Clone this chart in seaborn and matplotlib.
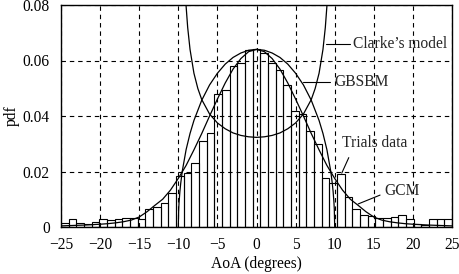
import numpy as np
import pandas as pd
import matplotlib
matplotlib.use("Agg")
import matplotlib.pyplot as plt
import seaborn as sns

# ---- data ----
bin_index = list(range(-25, 26))          # 51 bins, centred on 0, spanning -25..25 deg
trials_pdf = [0.0013, 0.0029, 0.0013, 0.0011, 0.0019, 0.0029, 0.0025, 0.0029, 0.0034, 0.0034,
              0.0029, 0.0064, 0.0071, 0.0085, 0.0124, 0.0184, 0.0196, 0.0232, 0.0310, 0.0338,
              0.0478, 0.0494, 0.0580, 0.0592, 0.0638, 0.0640, 0.0628, 0.0590, 0.0566, 0.0512,
              0.0418, 0.0406, 0.0347, 0.0298, 0.0178, 0.0160, 0.0190, 0.0109, 0.0064, 0.0043,
              0.0040, 0.0031, 0.0031, 0.0037, 0.0045, 0.0029, 0.0011, 0.0006, 0.0029, 0.0029,
              0.0029]

clarke_x = [-9.1, -9.0, -8.8, -8.5, -8.0, -7.5, -7.0, -6.0, -5.0, -4.0, -3.0, -2.0, -1.0, 0.0,
            1.0, 2.0, 3.0, 4.0, 5.0, 6.0, 7.0, 7.5, 8.0, 8.5, 8.8, 9.0, 9.1]
clarke_pdf = [0.0844, 0.0795, 0.0719, 0.0640, 0.0554, 0.0499, 0.0459, 0.0407, 0.0375, 0.0354, 0.0339,
              0.0330, 0.0325, 0.0323,
              0.0325, 0.0330, 0.0339, 0.0354, 0.0375, 0.0407, 0.0459, 0.0499, 0.0554, 0.0640, 0.0719,
              0.0795, 0.0844]

gbsbm_x = [-10.0, -9.95, -9.9, -9.8, -9.7, -9.5, -9.0, -8.5, -8.0, -7.0, -6.0, -5.0, -4.0, -3.0,
           -2.0, -1.0, 0.0, 1.0, 2.0, 3.0, 4.0, 5.0, 6.0, 7.0, 8.0, 8.5, 9.0, 9.5, 9.7, 9.8,
           9.9, 9.95, 10.0]
gbsbm_pdf = [0.0, 0.0064, 0.0090, 0.0127, 0.0155, 0.0200, 0.0279, 0.0337, 0.0384, 0.0457, 0.0512,
             0.0554, 0.0587, 0.0611, 0.0627, 0.0637, 0.0640, 0.0637, 0.0627, 0.0611, 0.0587,
             0.0554, 0.0512, 0.0457, 0.0384, 0.0337, 0.0279, 0.0200, 0.0155, 0.0127, 0.0090,
             0.0064, 0.0]

gcm_x = [-25, -22, -20, -19, -18, -17, -16, -15, -14, -13, -12, -11, -10, -9, -8, -7, -6, -5, -4,
         -3, -2, -1, 0, 1, 2, 3, 4, 5, 6, 7, 8, 9, 10, 11, 12, 13, 14, 15, 16, 17, 18, 19, 20,
         22, 25]
gcm_pdf = [0.0004, 0.0007, 0.0010, 0.0012, 0.0015, 0.0019, 0.0025, 0.0036, 0.0055, 0.0078,
           0.0100, 0.0133, 0.0175, 0.0222, 0.0278, 0.0337, 0.0400, 0.0461, 0.0519, 0.0569,
           0.0607, 0.0632, 0.0640, 0.0632, 0.0607, 0.0569, 0.0519, 0.0461, 0.0400, 0.0337,
           0.0278, 0.0222, 0.0175, 0.0133, 0.0100, 0.0078, 0.0055, 0.0036, 0.0025, 0.0019,
           0.0015, 0.0012, 0.0010, 0.0007, 0.0004]

x_ticks = [-25, -20, -15, -10, -5, 0, 5, 10, 15, 20, 25]
x_tick_labels = ["\u221225", "\u221220", "\u221215", "\u221210", "\u22125", "0", "5", "10", "15", "20", "25"]
y_ticks = [0, 0.02, 0.04, 0.06, 0.08]
y_tick_labels = ["0", "0.02", "0.04", "0.06", "0.08"]

# ---- plotting ----
sns.set_theme(style="white")
plt.rcParams["font.family"] = ["Liberation Serif", "DejaVu Serif"]
FS = 11.2
plt.rcParams["font.size"] = FS

fig = plt.figure(figsize=(4.6, 2.74), dpi=100)
ax = fig.add_axes([61 / 460, 1 - 227 / 274, 391 / 460, 222 / 274])

bin_width = 50 / 51
trials = pd.DataFrame({"aoa": np.array(bin_index) * bin_width, "pdf": trials_pdf})
sns.histplot(data=trials, x="aoa", weights="pdf", bins=51, binrange=(-25, 25),
             fill=False, color="black", linewidth=0.8, element="bars", ax=ax)

sns.lineplot(x=clarke_x, y=clarke_pdf, color="black", linewidth=0.9, ax=ax)
sns.lineplot(x=gbsbm_x, y=gbsbm_pdf, color="black", linewidth=0.9, ax=ax)
sns.lineplot(x=gcm_x, y=gcm_pdf, color="black", linewidth=0.9, ax=ax)

ax.set_xlim(-25, 25)
ax.set_ylim(0, 0.08)
ax.set_xticks(x_ticks)
ax.set_xticklabels(x_tick_labels)
ax.set_yticks(y_ticks)
ax.set_yticklabels(y_tick_labels)
ax.grid(True, color="black", linestyle=(0, (4, 3.5)), linewidth=0.8)
ax.set_axisbelow(False)
for s in ax.spines.values():
    s.set_color("black")
    s.set_linewidth(1.0)
ax.tick_params(axis="both", direction="out", length=2, width=0.8, colors="black",
               labelsize=FS)
ax.tick_params(axis="y", pad=6)
ax.tick_params(axis="x", pad=5)
ax.set_xlabel("AoA (degrees)", fontsize=FS, color="black")
ax.set_ylabel("pdf", fontsize=FS, color="black")
ax.xaxis.set_label_coords(0.5, -37 / 222, transform=ax.transAxes)
ax.xaxis.label.set_va("center")
ax.yaxis.set_label_coords(-49 / 391, 0.5, transform=ax.transAxes)
ax.yaxis.label.set_va("center")

# annotations
ax.plot([8.9, 12.0], [0.066, 0.066], color="black", linewidth=0.8)
ax.text(12.4, 0.066, "Clarke\u2019s model", va="center", ha="left", fontsize=FS)
ax.plot([6.0, 9.4], [0.0524, 0.0524], color="black", linewidth=0.8)
ax.text(9.9, 0.0524, "GBSBM", va="center", ha="left", fontsize=FS)
ax.plot([10.9, 11.8], [0.0194, 0.0250], color="black", linewidth=0.8)
ax.text(10.9, 0.0302, "Trials data", va="center", ha="left", fontsize=FS)
ax.plot([13.0, 15.8], [0.0083, 0.0115], color="black", linewidth=0.8)
ax.text(16.4, 0.0128, "GCM", va="center", ha="left", fontsize=FS)

fig.savefig("out.png", dpi=100)
